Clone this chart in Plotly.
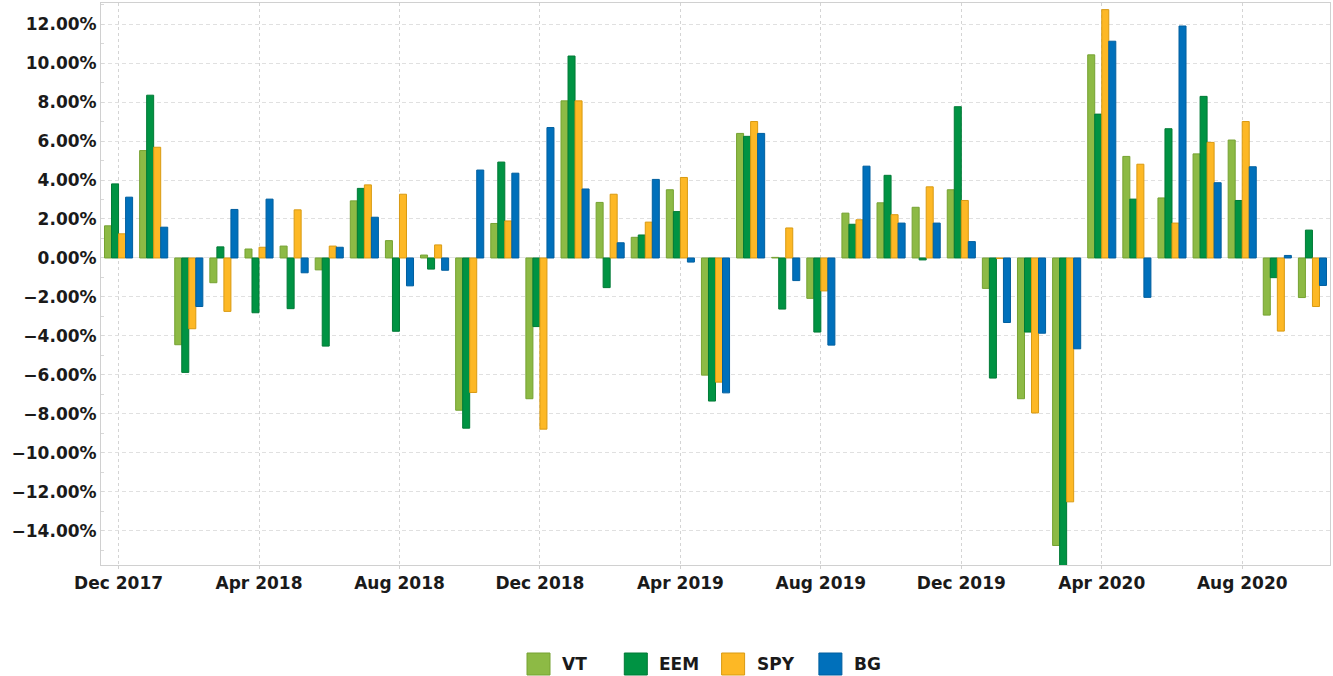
import plotly.graph_objects as go

months = ["Dec 2017", "Jan 2018", "Feb 2018", "Mar 2018", "Apr 2018", "May 2018", "Jun 2018",
          "Jul 2018", "Aug 2018", "Sep 2018", "Oct 2018", "Nov 2018", "Dec 2018",
          "Jan 2019", "Feb 2019", "Mar 2019", "Apr 2019", "May 2019", "Jun 2019",
          "Jul 2019", "Aug 2019", "Sep 2019", "Oct 2019", "Nov 2019", "Dec 2019",
          "Jan 2020", "Feb 2020", "Mar 2020", "Apr 2020", "May 2020", "Jun 2020",
          "Jul 2020", "Aug 2020", "Sep 2020", "Oct 2020"]

vt = [1.65, 5.51, -4.45, -1.27, 0.46, 0.61, -0.61, 2.93, 0.89, 0.15, -7.81, 1.77, -7.22,
      8.06, 2.85, 1.06, 3.50, -6.01, 6.39, 0.03, -2.07, 2.30, 2.83, 2.60, 3.50,
      -1.56, -7.22, -14.75, 10.42, 5.21, 3.08, 5.34, 6.05, -2.93, -2.03]
eem = [3.80, 8.35, -5.87, 0.57, -2.81, -2.60, -4.52, 3.57, -3.76, -0.57, -8.73, 4.92, -3.52,
       10.36, -1.52, 1.18, 2.38, -7.34, 6.24, -2.62, -3.80, 1.73, 4.24, -0.10, 7.76,
       -6.16, -3.80, -16.5, 7.38, 3.02, 6.63, 8.29, 2.95, -1.01, 1.43]
spy = [1.24, 5.68, -3.63, -2.74, 0.55, 2.47, 0.61, 3.75, 3.27, 0.67, -6.90, 1.90, -8.78,
       8.06, 3.27, 1.84, 4.13, -6.37, 7.00, 1.54, -1.69, 1.96, 2.22, 3.65, 2.95,
       -0.03, -7.95, -12.51, 12.74, 4.81, 1.79, 5.93, 7.00, -3.75, -2.49]
bg = [3.12, 1.58, -2.49, 2.49, 3.02, -0.76, 0.55, 2.09, -1.43, -0.63, 4.51, 4.35, 6.69,
      3.54, 0.78, 4.03, -0.21, -6.92, 6.39, -1.16, -4.47, 4.71, 1.79, 1.79, 0.84,
      -3.31, -3.86, -4.66, 11.12, -2.02, 11.90, 3.86, 4.68, 0.13, -1.41]

tick_labels = ["Dec 2017", "Apr 2018", "Aug 2018", "Dec 2018", "Apr 2019",
               "Aug 2019", "Dec 2019", "Apr 2020", "Aug 2020"]
y_ticks = [-14, -12, -10, -8, -6, -4, -2, 0, 2, 4, 6, 8, 10, 12]

series = [
    ("VT", vt, "#8DBA45", "#76a232"),
    ("EEM", eem, "#009343", "#007a36"),
    ("SPY", spy, "#FDB825", "#d99a12"),
    ("BG", bg, "#0070BB", "#005f9f"),
]

W, H = 1333, 676
ML, MR, MT, MB = 101, 3, 3, 111
PW, PH = W - ML - MR, H - MT - MB

fig = go.Figure()
for name, vals, col, lcol in series:
    fig.add_trace(go.Bar(
        x=months, y=vals, name=name, showlegend=False,
        marker=dict(color=col, line=dict(color=lcol, width=1)),
    ))

font_bold = dict(family="DejaVu Sans", size=17, color="#1a1a1a", weight="bold")

# custom legend (large squares like the original)
leg_x0, leg_step, sq = 527, 97.3, 23
leg_top, leg_bot = 653, 675
for i, (name, vals, col, lcol) in enumerate(series):
    x0 = leg_x0 + i * leg_step
    fig.add_shape(type="rect", xref="paper", yref="paper",
                  x0=(x0 - ML) / PW, x1=(x0 + sq - ML) / PW,
                  y0=(H - MB - leg_top) / PH, y1=(H - MB - leg_bot) / PH,
                  fillcolor=col, line=dict(color=lcol, width=1))
    fig.add_annotation(xref="paper", yref="paper", x=(x0 + 33 - ML) / PW,
                       y=(H - MB - (leg_top + leg_bot) / 2) / PH,
                       text=name, showarrow=False, xanchor="left", yanchor="middle",
                       font=font_bold)

fig.update_layout(
    width=W, height=H,
    barmode="group", bargap=0.2, bargroupgap=0,
    plot_bgcolor="white", paper_bgcolor="white",
    margin=dict(l=ML, r=MR, t=MT, b=MB, autoexpand=False),
    showlegend=False,
)
fig.update_xaxes(
    type="category", tickvals=tick_labels, ticktext=tick_labels,
    range=[-0.5, len(months) - 0.5], automargin=False,
    showgrid=True, gridcolor="#d4d4d4", griddash="3px,3px", gridwidth=1,
    showline=True, linecolor="#d0d0d0", mirror=True,
    ticks="outside", ticklen=3, tickcolor="#d0d0d0",
    tickfont=font_bold,
)
fig.update_yaxes(
    range=[-15.75, 13.08], tickvals=y_ticks, automargin=False,
    ticktext=[f"{v:.2f}%".replace("-", "\u2212") for v in y_ticks],
    showgrid=True, gridcolor="#e0e0e0", griddash="4px,3px", gridwidth=1,
    zeroline=True, zerolinecolor="#e4e4e4", zerolinewidth=1,
    showline=True, linecolor="#d0d0d0", mirror=True,
    ticks="", tickfont=font_bold,
    minor=dict(dtick=1, ticks="inside", ticklen=3, tickcolor="#d8d8d8", showgrid=False),
)

fig.write_html("out.html", config={"displayModeBar": False},
               post_script="document.body.style.margin='0';")
